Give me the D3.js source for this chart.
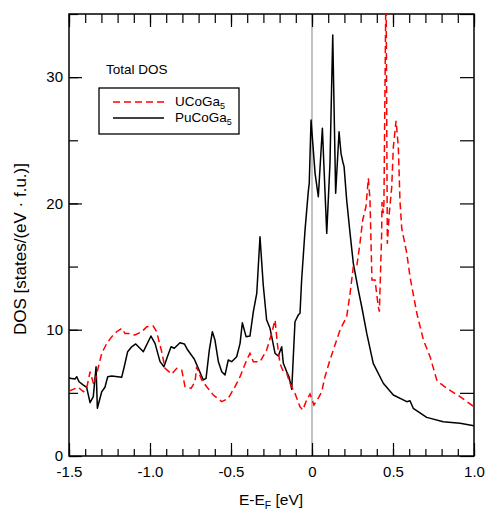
<!DOCTYPE html>
<html>
<head>
<meta charset="utf-8">
<script src="https://cdn.jsdelivr.net/npm/d3@7/dist/d3.min.js"></script>
<style>
  body { margin: 0; background: #fff; }
  text { font-family: "Liberation Sans", Arial, Helvetica, sans-serif; fill: #000; }
</style>
</head>
<body>
<script>
// Total DOS data, energy (eV) relative to E_F, DOS in states/(eV f.u.)
const puEnergy = [-1.5, -1.494, -1.463, -1.452, -1.438, -1.411, -1.391, -1.370, -1.350, -1.333, -1.325, -1.298, -1.278,
  -1.261, -1.236, -1.175, -1.159, -1.138, -1.113, -1.088, -1.041, -0.994, -0.969, -0.938, -0.914, -0.891, -0.870,
  -0.850, -0.815, -0.788, -0.767, -0.726, -0.702, -0.671, -0.654, -0.634, -0.615, -0.599, -0.578, -0.557, -0.537,
  -0.517, -0.496, -0.465, -0.444, -0.430, -0.407, -0.383, -0.362, -0.341, -0.321, -0.301, -0.280, -0.259, -0.228,
  -0.208, -0.187, -0.177, -0.156, -0.142, -0.125, -0.105, -0.085, -0.074, -0.064, -0.043, -0.023, -0.017, -0.006,
  0.019, 0.039, 0.064, 0.091, 0.111, 0.128, 0.146, 0.167, 0.179, 0.190, 0.198, 0.214, 0.235, 0.255, 0.286, 0.307,
  0.338, 0.378, 0.440, 0.502, 0.585, 0.605, 0.625, 0.708, 0.810, 0.914, 1.0];
const puDos = [6.2, 6.15, 6.10, 6.28, 5.88, 5.62, 5.44, 4.22, 4.70, 7.07, 3.78, 5.09, 5.44,
  6.28, 6.33, 6.23, 7.07, 8.26, 8.65, 8.87, 8.26, 9.50, 8.92, 7.47, 7.07, 7.92, 8.65,
  8.53, 8.97, 8.87, 8.39, 7.66, 6.94, 6.02, 6.15, 8.39, 9.84, 9.18, 7.47, 6.67, 6.41,
  7.60, 7.47, 7.86, 8.92, 10.55, 9.45, 9.50, 11.43, 12.88, 17.36, 13.54, 10.77, 10.11, 8.13,
  7.92, 8.65, 7.34, 6.67, 6.28, 5.28, 10.63, 11.16, 11.30, 13.94, 17.89, 20.93, 21.59, 26.60,
  22.38, 20.53, 25.95, 17.63, 23.18, 33.33, 20.80, 25.68, 23.97, 23.30, 22.91, 20.27, 17.63, 15.26, 13.14, 11.82,
  9.71, 7.34, 5.76, 4.83, 4.30, 4.38, 3.78, 3.06, 2.72, 2.59, 2.40];

const uEnergy = [-1.5, -1.443, -1.411, -1.391, -1.370, -1.346, -1.298, -1.267, -1.236, -1.206, -1.175, -1.154, -1.134,
  -1.093, -1.051, -1.020, -0.980, -0.959, -0.928, -0.907, -0.866, -0.835, -0.804, -0.784, -0.747, -0.722, -0.712,
  -0.681, -0.650, -0.609, -0.557, -0.517, -0.475, -0.444, -0.403, -0.383, -0.362, -0.321, -0.280, -0.249, -0.228,
  -0.214, -0.198, -0.177, -0.156, -0.136, -0.105, -0.074, -0.057, -0.033, -0.012, 0.012, 0.039, 0.060, 0.080,
  0.111, 0.152, 0.173, 0.214, 0.235, 0.255, 0.276, 0.296, 0.313, 0.333, 0.348, 0.358, 0.370, 0.389, 0.409, 0.416,
  0.430, 0.432, 0.440, 0.444, 0.457, 0.465, 0.477, 0.492, 0.502, 0.519, 0.533, 0.543, 0.554, 0.585, 0.605, 0.647,
  0.688, 0.729, 0.770, 0.790, 0.832, 0.914, 1.0];
const uDos = [5.15, 5.44, 5.09, 5.36, 6.67, 5.62, 8.13, 8.92, 9.45, 9.84, 10.11, 9.71, 9.71,
  9.58, 9.84, 10.24, 10.29, 9.84, 8.26, 6.94, 6.49, 6.94, 6.81, 5.49, 5.36, 5.88, 7.07,
  6.02, 5.49, 4.83, 4.30, 4.57, 5.49, 6.28, 7.60, 8.13, 7.47, 7.47, 8.39, 9.71, 10.77,
  8.92, 7.34, 6.67, 6.55, 5.76, 4.96, 3.90, 3.64, 4.43, 4.91, 4.04, 4.59, 5.09, 6.28,
  7.60, 9.18, 9.98, 11.03, 12.88, 14.99, 14.99, 16.84, 18.69, 19.74, 21.99, 20.27, 13.94, 13.94, 11.82, 11.43,
  17.63, 20.11, 19.22, 20.03, 38.0, 16.8, 19.22, 21.27, 24.44, 26.55, 24.44, 20.21, 18.03, 16.05, 14.20, 11.30,
  9.18, 7.86, 6.02, 5.76, 5.36, 4.70, 3.90];

const xMajor = [-1.5, -1.0, -0.5, 0, 0.5, 1.0];
const xMajorLabels = ["-1.5", "-1.0", "-0.5", "0", "0.5", "1.0"];
const xMinor = d3.range(-1.5, 1.0001, 0.1).map(v => +v.toFixed(2));
const yMajor = [0, 10, 20, 30];
const yMinor = [0, 5, 10, 15, 20, 25, 30, 35];

const width = 485, height = 511;
const margin = { left: 69, right: 11, top: 14, bottom: 55 };
const plotW = width - margin.left - margin.right;
const plotH = height - margin.top - margin.bottom;

const x = d3.scaleLinear().domain([-1.5, 1.0]).range([0, plotW]);
const y = d3.scaleLinear().domain([0, 35]).range([plotH, 0]);

const svg = d3.select("body").append("svg")
    .attr("width", width)
    .attr("height", height);

svg.append("defs").append("clipPath")
    .attr("id", "clip")
    .append("rect")
    .attr("width", plotW)
    .attr("height", plotH);

const g = svg.append("g")
    .attr("transform", `translate(${margin.left},${margin.top})`);

// Fermi level line
g.append("line")
    .attr("x1", x(0)).attr("x2", x(0))
    .attr("y1", 0).attr("y2", plotH)
    .attr("stroke", "#9a9a9a")
    .attr("stroke-width", 1.2);

// Axes with inward ticks
function styleAxis(sel) {
    sel.select(".domain").remove();
    sel.selectAll("line").attr("stroke", "#000").attr("stroke-width", 1.2);
    sel.selectAll("text").style("font-size", "15px").attr("fill", "#000");
}

g.append("g")
    .attr("transform", `translate(0,${plotH})`)
    .call(d3.axisBottom(x).tickValues(xMinor).tickSize(-7).tickFormat(""))
    .call(styleAxis);
g.append("g")
    .attr("transform", `translate(0,${plotH})`)
    .call(d3.axisBottom(x).tickValues(xMajor).tickSize(-13).tickPadding(6)
        .tickFormat((d, i) => xMajorLabels[i]))
    .call(styleAxis)
    .selectAll("text").attr("y", 10);

g.append("g")
    .call(d3.axisTop(x).tickValues(xMinor).tickSize(-9).tickFormat(""))
    .call(styleAxis);
g.append("g")
    .call(d3.axisTop(x).tickValues(xMajor).tickSize(-13).tickFormat(""))
    .call(styleAxis);

g.append("g")
    .call(d3.axisLeft(y).tickValues(yMinor).tickSize(-9).tickFormat(""))
    .call(styleAxis);
g.append("g")
    .call(d3.axisLeft(y).tickValues(yMajor).tickSize(-13).tickPadding(6).tickFormat(d3.format("d")))
    .call(styleAxis)
    .selectAll("text").attr("x", -6);

g.append("g")
    .attr("transform", `translate(${plotW},0)`)
    .call(d3.axisRight(y).tickValues(yMinor).tickSize(-14).tickFormat(""))
    .call(styleAxis);

// Frame
g.append("rect")
    .attr("width", plotW)
    .attr("height", plotH)
    .attr("fill", "none")
    .attr("stroke", "#000")
    .attr("stroke-width", 1.5);

// Curves
const line = d3.line()
    .x(d => x(d[0]))
    .y(d => y(d[1]));

const curves = g.append("g").attr("clip-path", "url(#clip)");

curves.append("path")
    .datum(d3.zip(puEnergy, puDos))
    .attr("fill", "none")
    .attr("stroke", "#000")
    .attr("stroke-width", 1.5)
    .attr("stroke-linejoin", "round")
    .attr("d", line);

curves.append("path")
    .datum(d3.zip(uEnergy, uDos))
    .attr("fill", "none")
    .attr("stroke", "#ff0000")
    .attr("stroke-width", 1.5)
    .attr("stroke-dasharray", "7,4")
    .attr("d", line);

// Legend
svg.append("text")
    .attr("x", 106)
    .attr("y", 74)
    .style("font-size", "13.5px")
    .text("Total DOS");

svg.append("rect")
    .attr("x", 99).attr("y", 88)
    .attr("width", 140).attr("height", 46)
    .attr("fill", "#fff")
    .attr("stroke", "#000")
    .attr("stroke-width", 1.3);

const legendItems = [
    { name: "UCoGa", color: "#ff0000", dash: "7,4", y: 102 },
    { name: "PuCoGa", color: "#000", dash: null, y: 118 }
];

legendItems.forEach(item => {
    svg.append("line")
        .attr("x1", 113).attr("x2", 164)
        .attr("y1", item.y).attr("y2", item.y)
        .attr("stroke", item.color)
        .attr("stroke-width", 1.5)
        .attr("stroke-dasharray", item.dash);
    const t = svg.append("text")
        .attr("x", 175)
        .attr("y", item.y + 4)
        .style("font-size", "13.5px")
        .text(item.name);
    t.append("tspan")
        .attr("dy", 3)
        .style("font-size", "9px")
        .text("5");
});

// Axis titles
const xTitle = svg.append("text")
    .attr("x", 271)
    .attr("y", 505)
    .attr("text-anchor", "middle")
    .style("font-size", "15.5px")
    .text("E-E");
xTitle.append("tspan").attr("dy", 4).style("font-size", "10.5px").text("F");
xTitle.append("tspan").attr("dy", -4).text(" [eV]");

svg.append("text")
    .attr("transform", "translate(26,249) rotate(-90)")
    .attr("text-anchor", "middle")
    .style("font-size", "17px")
    .text("DOS [states/(eV \u00b7 f.u.)]");
</script>
</body>
</html>
